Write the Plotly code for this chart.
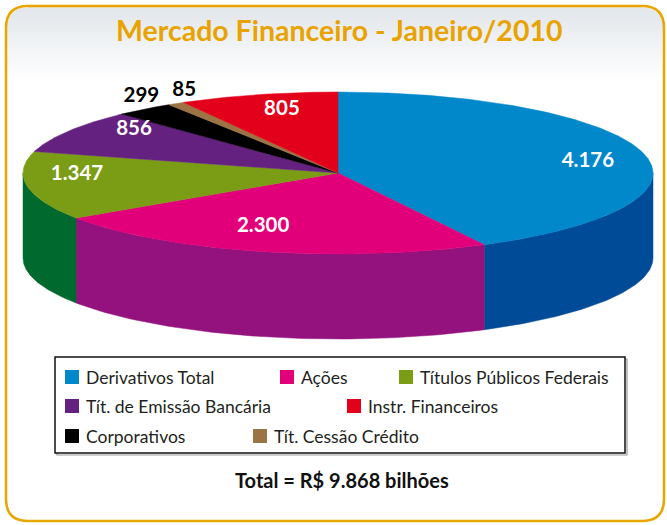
import numpy as np
import plotly.graph_objects as go

# ---------------- data ----------------
categories = ["Derivativos Total", "Ações", "Títulos Públicos Federais",
              "Tít. de Emissão Bancária", "Corporativos", "Tít. Cessão Crédito",
              "Instr. Financeiros"]
values = [4176, 2300, 1347, 856, 299, 85, 805]
title_text = "Mercado Financeiro - Janeiro/2010"
total_text = "Total = R$ 9.868 bilhões"

# ---------------- styles ----------------
top_colors = ["#0088CA", "#E2007A", "#7A9D15", "#652180", "#000000", "#9C7342", "#E3001B"]
side_colors = ["#004B98", "#93127D", "#00692E", "#3F1452", "#000000", "#6B4F2D", "#8C0011"]
label_colors = ["white", "white", "white", "white", "black", "black", "white"]
label_r = [0.805, 0.708, 0.829, 0.838, 1.127, 1.125, 0.798]
label_dtheta = [4.1, 5.3, 7.5, 8.4, 4.3, 5.2, 1.8]
legend_pos = [(0, 65, 377), (1, 280, 377), (2, 399, 377),
              (3, 65, 406), (6, 347, 406),
              (4, 65, 436), (5, 253, 436)]
font_family = "Lato, 'Open Sans', sans-serif"

W, H = 667, 525
cx, cy, rx, ry, depth = 338, 173, 315, 81, 85


def pt(theta_deg, r=1.0, dy=0.0):
    t = np.radians(theta_deg)
    return cx + rx * r * np.sin(t), cy - ry * r * np.cos(t) + dy


fig = go.Figure()

total = float(sum(values))
angles = np.concatenate([[0], np.cumsum(values) / total * 360.0])

# side walls (front half only: 90..270 degrees)
for i in range(len(values)):
    a0, a1 = angles[i], angles[i + 1]
    s, e = max(a0, 90), min(a1, 270)
    if e <= s:
        continue
    th = np.linspace(s, e, 80)
    xt, yt = pt(th)
    xb, yb = pt(th[::-1], dy=depth)
    xs = np.concatenate([xt, xb, xt[:1]])
    ys = np.concatenate([yt, yb, yt[:1]])
    fig.add_trace(go.Scatter(x=xs, y=ys, fill="toself", mode="lines",
                             fillcolor=side_colors[i],
                             line=dict(color=side_colors[i], width=0.5),
                             hoverinfo="skip", showlegend=False))

# top faces
for i in range(len(values)):
    a0, a1 = angles[i], angles[i + 1]
    th = np.linspace(a0, a1, max(int((a1 - a0) * 2), 6))
    xa, ya = pt(th)
    xs = np.concatenate([[cx], xa, [cx]])
    ys = np.concatenate([[cy], ya, [cy]])
    fig.add_trace(go.Scatter(x=xs, y=ys, fill="toself", mode="lines",
                             fillcolor=top_colors[i],
                             line=dict(color=top_colors[i], width=0.5),
                             hoverinfo="skip", showlegend=False, name=categories[i]))


# value labels
def fmt(v):
    return f"{v:,}".replace(",", ".")


for i, v in enumerate(values):
    mid = (angles[i] + angles[i + 1]) / 2 + label_dtheta[i]
    x, y = pt(mid, label_r[i])
    fig.add_trace(go.Scatter(x=[x], y=[y], mode="text", text=[f"<b>{fmt(v)}</b>"],
                             textfont=dict(family=font_family, size=20.5,
                                           color=label_colors[i]),
                             textposition="middle center",
                             hoverinfo="skip", showlegend=False))

shapes = []
# background gradient with rounded top corners
L, R_, T, B, rad = 6, 664, 6, 521, 22
nb = 40
g_top, g_bot = T, 82
for k in range(nb):
    y0 = g_top + (g_bot - g_top) * k / nb
    y1 = g_top + (g_bot - g_top) * (k + 1) / nb
    f = k / (nb - 1)
    c = tuple(int(round(a + (255 - a) * f)) for a in (225, 230, 234))
    inset = 0.0
    if y0 < T + rad:
        d = T + rad - y0
        inset = rad - np.sqrt(max(rad ** 2 - d ** 2, 0))
    shapes.append(dict(type="rect", xref="x", yref="y", x0=L + inset, x1=R_ - inset,
                       y0=y0, y1=y1 + 0.6, line=dict(width=0),
                       fillcolor=f"rgb{c}", layer="below"))

# rounded border
path = (f"M {L+rad},{T} L {R_-rad},{T} Q {R_},{T} {R_},{T+rad} "
        f"L {R_},{B-rad} Q {R_},{B} {R_-rad},{B} L {L+rad},{B} "
        f"Q {L},{B} {L},{B-rad} L {L},{T+rad} Q {L},{T} {L+rad},{T} Z")
shapes.append(dict(type="path", xref="x", yref="y", path=path,
                   line=dict(color="#E9A500", width=2.5), layer="above"))

# legend box
shapes.append(dict(type="rect", xref="x", yref="y", x0=57, x1=627, y0=359, y1=455,
                   line=dict(color="#9a9a9a", width=1.2), layer="above"))
shapes.append(dict(type="rect", xref="x", yref="y", x0=55, x1=625, y0=357, y1=453,
                   line=dict(color="#111111", width=1.5), fillcolor="white",
                   layer="above"))

annotations = []
for idx, x, y in legend_pos:
    shapes.append(dict(type="rect", xref="x", yref="y", x0=x, x1=x + 14,
                       y0=y - 7, y1=y + 7, line=dict(width=0),
                       fillcolor=top_colors[idx], layer="above"))
    annotations.append(dict(x=x + 19, y=y, xref="x", yref="y", text=categories[idx],
                            showarrow=False, xanchor="left", yanchor="middle",
                            font=dict(family=font_family, size=17.5, color="#231F20")))

annotations.append(dict(x=339, y=30, xref="x", yref="y", text=f"<b>{title_text}</b>",
                        showarrow=False, xanchor="center", yanchor="middle",
                        font=dict(family=font_family, size=28.5, color="#E9A300")))
annotations.append(dict(x=342, y=480, xref="x", yref="y", text=f"<b>{total_text}</b>",
                        showarrow=False, xanchor="center", yanchor="middle",
                        font=dict(family=font_family, size=20, color="#111111")))

fig.update_layout(
    width=W, height=H,
    margin=dict(l=0, r=0, t=0, b=0),
    paper_bgcolor="white", plot_bgcolor="white",
    xaxis=dict(range=[0, W], visible=False, fixedrange=True),
    yaxis=dict(range=[H, 0], visible=False, fixedrange=True),
    shapes=shapes, annotations=annotations, showlegend=False,
)

fig.write_html("out.html", config={"displayModeBar": False},
               post_script="document.body.style.margin='0';document.body.style.overflow='hidden';")
